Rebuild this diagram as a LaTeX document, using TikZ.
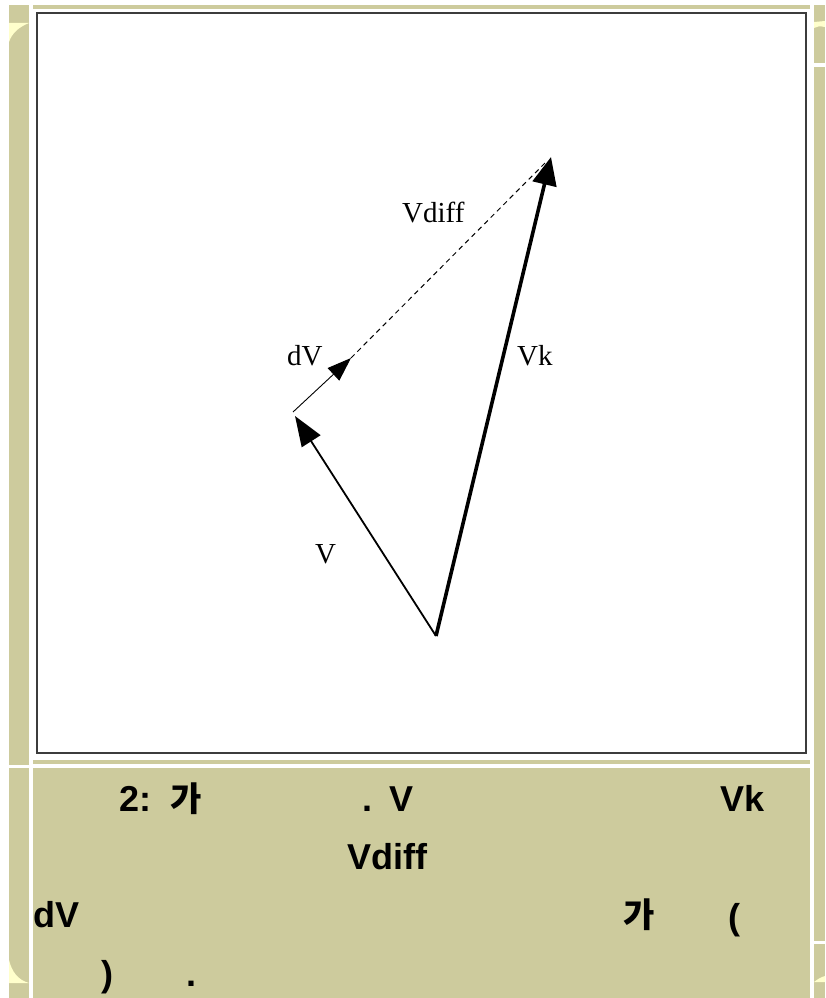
\documentclass[tikz,border=0pt]{standalone}
\usepackage{fontspec}
\setmainfont{Liberation Serif}
\newfontfamily\capfont{Liberation Sans}
\newfontfamily\kofont{Noto Sans CJK KR}
\usetikzlibrary{arrows.meta}
\definecolor{khaki}{RGB}{205,203,157}
\definecolor{cream}{RGB}{255,255,204}
\definecolor{framec}{RGB}{60,60,60}
\begin{document}
\begin{tikzpicture}[x=1pt,y=-1pt,
  lbl/.style={inner sep=0pt,anchor=base west,font=\fontsize{29}{29}\selectfont},
  captxt/.style={inner sep=0pt,anchor=base west,font=\capfont\bfseries\fontsize{36}{36}\selectfont},
  kcaptxt/.style={inner sep=0pt,anchor=base west,font=\kofont\bfseries\fontsize{34}{34}\selectfont},
  vecthin/.style={line width=1.8pt,-{Triangle[length=30pt,width=22pt]}},
  vecthick/.style={line width=3.6pt,-{Triangle[length=28pt,width=24pt]}},
  vecsmall/.style={line width=0.9pt,-{Triangle[length=24pt,width=17pt]}},
  diffline/.style={line width=1pt,dash pattern=on 5pt off 4pt}]
\useasboundingbox (0,0) rectangle (825,998);
\fill[white] (0,0) rectangle (825,998);
% side columns and bars
\fill[khaki] (9,5) rectangle (29,765);
\fill[khaki] (9,768) rectangle (29,998);
\fill[khaki] (33,5) rectangle (810,9);
\fill[khaki] (814,5) rectangle (825,63);
\fill[khaki] (814,67) rectangle (825,941);
\fill[khaki] (814,944) rectangle (825,998);
\fill[khaki] (33,760) rectangle (810,764);
\fill[khaki] (33,768) rectangle (810,998);
% cream highlights
\fill[cream] (9,23) -- (29,23) .. controls (19,27) and (12,33) .. (9,42) -- cycle;
\fill[cream] (9,960) .. controls (12,972) and (18,980) .. (29,983) -- (9,983) -- cycle;
\fill[cream] (814,22) -- (825,21) -- (825,27) .. controls (820,26) and (817,26) .. (814,28) -- cycle;
\fill[cream] (814,982) .. controls (818,979) and (821,977) .. (825,976) -- (825,982) -- cycle;
% frame
\fill[white] (37,13) rectangle (806,753);
\draw[framec,line width=2pt] (37,13) rectangle (806,753);
% vector diagram
\coordinate (O) at (436,636);
\coordinate (Vtip) at (295,416);
\coordinate (dVs) at (293,412);
\coordinate (dVt) at (351,358);
\coordinate (Vktip) at (551,157);
\coordinate (Vdiffend) at (546,162);
\draw[vecthin] (O) -- (Vtip);
\draw[vecthick] (O) -- (Vktip);
\draw[vecsmall] (dVs) -- (dVt);
\draw[diffline] (dVt) -- (Vdiffend);
% labels
\node[lbl] (lVdiff) at (402,222) {Vdiff};
\node[lbl] (ldV) at (287,365) {dV};
\node[lbl] (lVk) at (517,365) {Vk};
\node[lbl] (lV) at (315,563) {V};
% caption
\node[captxt] (c1) at (119,811) {2:};
\node[kcaptxt] (c2) at (170,811) {가};
\node[captxt] (c3) at (362,811) {.};
\node[captxt] (c4) at (389,811) {V};
\node[captxt] (c5) at (720,811) {Vk};
\node[captxt] (c6) at (347,869) {Vdiff};
\node[captxt] (c7) at (33,927) {dV};
\node[kcaptxt] (c8) at (623,927) {가};
\node[captxt] (c9) at (728,929) {(};
\node[captxt] (c10) at (101,986) {)};
\node[captxt] (c11) at (186,986) {.};
\end{tikzpicture}
\end{document}
